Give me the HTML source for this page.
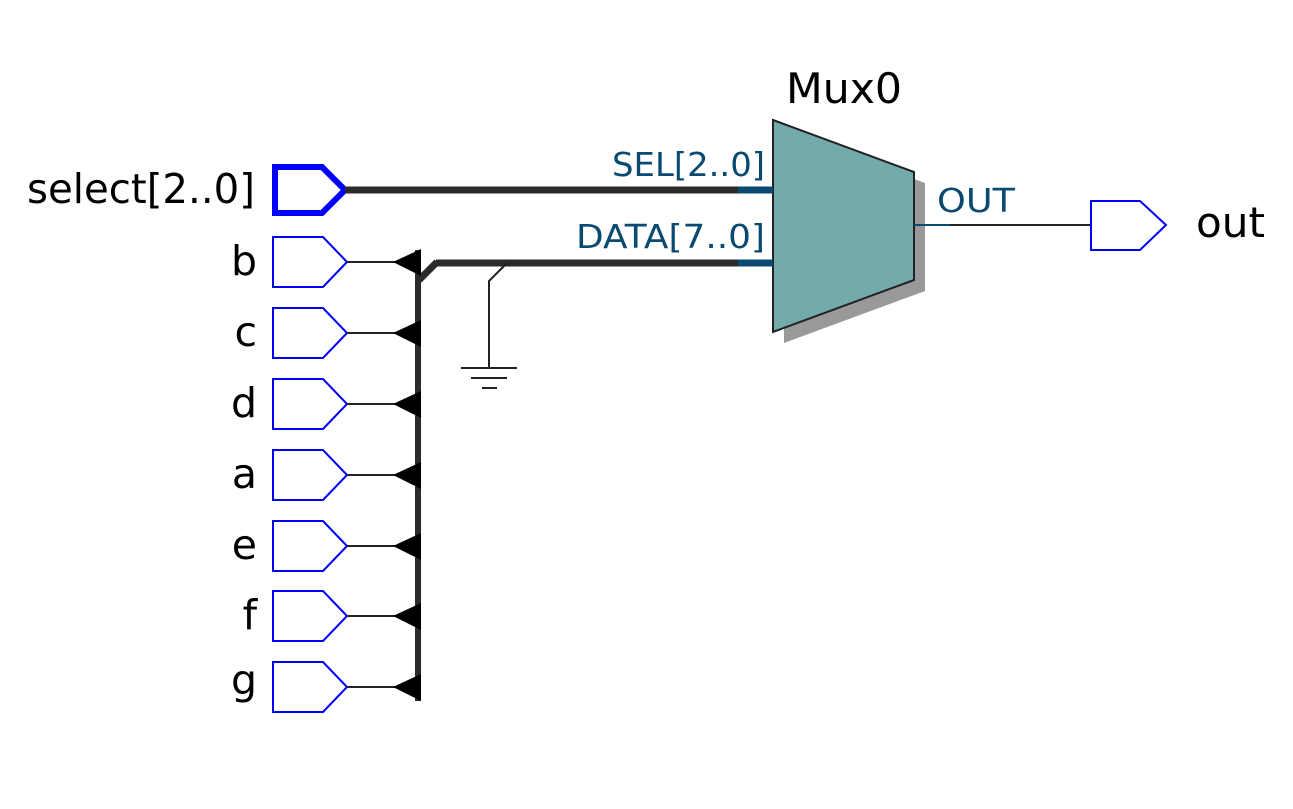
<!DOCTYPE html>
<html><head><style>body{margin:0;background:#fff}</style></head><body>
<svg width="1293" height="804" xmlns="http://www.w3.org/2000/svg" font-family="'DejaVu Sans','Liberation Sans',sans-serif">
<rect width="1293" height="804" fill="#fff"/>
<polygon points="784,131 925,183 925,291 784,343" fill="#999"/>
<polygon points="773,120 914,172 914,280 773,332" fill="#73abad" stroke="#222" stroke-width="2"/>
<polygon points="275,167 322,167 345,190 322,213 275,213" fill="none" stroke="#0000ff" stroke-width="6"/>
<line x1="345" y1="190" x2="738" y2="190" stroke="#2b2b2b" stroke-width="7"/>
<line x1="738" y1="190" x2="773" y2="190" stroke="#0a4a70" stroke-width="7"/>
<line x1="436" y1="263" x2="738" y2="263" stroke="#2b2b2b" stroke-width="7"/>
<line x1="738" y1="263" x2="773" y2="263" stroke="#0a4a70" stroke-width="7"/>
<line x1="419" y1="280" x2="437" y2="262" stroke="#2b2b2b" stroke-width="7"/>
<line x1="418" y1="250" x2="418" y2="701" stroke="#2b2b2b" stroke-width="6"/>
<polyline points="507,263 489,281 489,368" fill="none" stroke="#222" stroke-width="2"/>
<line x1="461" y1="368" x2="517" y2="368" stroke="#222" stroke-width="2"/>
<line x1="471" y1="378" x2="507" y2="378" stroke="#222" stroke-width="2"/>
<line x1="482" y1="388" x2="497" y2="388" stroke="#222" stroke-width="2"/>
<g fill="none" stroke="#0000ff" stroke-width="2">
<polygon points="273,237 323,237 347,262 323,287 273,287"/>
<polygon points="273,308 323,308 347,333 323,358 273,358"/>
<polygon points="273,379 323,379 347,404 323,429 273,429"/>
<polygon points="273,450 323,450 347,475 323,500 273,500"/>
<polygon points="273,521 323,521 347,546 323,571 273,571"/>
<polygon points="273,591 323,591 347,616 323,641 273,641"/>
<polygon points="273,662 323,662 347,687 323,712 273,712"/>
</g>
<g stroke="#222" stroke-width="2">
<line x1="347" y1="262" x2="395" y2="262"/><line x1="347" y1="333" x2="395" y2="333"/>
<line x1="347" y1="404" x2="395" y2="404"/><line x1="347" y1="475" x2="395" y2="475"/>
<line x1="347" y1="546" x2="395" y2="546"/><line x1="347" y1="616" x2="395" y2="616"/>
<line x1="347" y1="687" x2="395" y2="687"/>
</g>
<g fill="#000">
<polygon points="393,262 421,249 421,276"/><polygon points="393,333 421,320 421,347"/>
<polygon points="393,404 421,391 421,418"/><polygon points="393,475 421,462 421,489"/>
<polygon points="393,546 421,533 421,560"/><polygon points="393,616 421,603 421,630"/>
<polygon points="393,687 421,674 421,701"/>
</g>
<line x1="914" y1="225" x2="950" y2="225" stroke="#0a4a70" stroke-width="2"/>
<line x1="950" y1="225" x2="1091" y2="225" stroke="#222" stroke-width="2"/>
<polygon points="1091,201 1140,201 1166,225 1140,250 1091,250" fill="none" stroke="#0000ff" stroke-width="2"/>
<g font-size="41" fill="#000">
<text x="27" y="203" textLength="228" lengthAdjust="spacingAndGlyphs">select[2..0]</text>
</g>
<g font-size="41" fill="#000" text-anchor="end">
<text x="257" y="275">b</text><text x="257" y="346">c</text><text x="257" y="417">d</text>
<text x="257" y="488">a</text><text x="257" y="559">e</text><text x="257" y="629">f</text>
<text x="257" y="694">g</text>
</g>
<text x="786" y="103" font-size="42" textLength="116" lengthAdjust="spacingAndGlyphs">Mux0</text>
<text x="1196" y="237" font-size="42" textLength="69" lengthAdjust="spacingAndGlyphs">out</text>
<g font-size="33" fill="#0a4a70">
<text x="612" y="176" textLength="153" lengthAdjust="spacingAndGlyphs">SEL[2..0]</text>
<text x="576" y="248" textLength="189" lengthAdjust="spacingAndGlyphs">DATA[7..0]</text>
<text x="937" y="212" textLength="78" lengthAdjust="spacingAndGlyphs">OUT</text>
</g>
</svg>
</body></html>
